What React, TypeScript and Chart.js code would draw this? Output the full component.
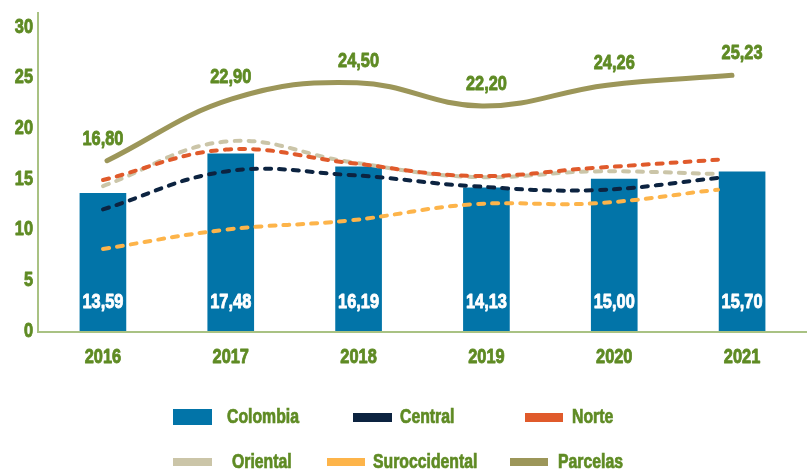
import React, { useEffect, useRef } from "react";
import { Chart, registerables } from "chart.js";

Chart.register(...registerables);

const YEARS = ["2016", "2017", "2018", "2019", "2020", "2021"];
const COLOMBIA = [13.59, 17.48, 16.19, 14.13, 15.0, 15.7];
const CENTRAL = [12.0, 15.75, 15.4, 14.3, 13.9, 15.1];
const NORTE = [14.9, 17.9, 16.6, 15.3, 16.1, 16.9];
const ORIENTAL = [14.3, 18.7, 16.7, 15.2, 15.75, 15.5];
const SUROCCIDENTAL = [8.1, 10.0, 10.9, 12.5, 12.6, 13.95];
const PARCELAS = [16.8, 22.9, 24.5, 22.2, 24.26, 25.23];

const FONT = "'Liberation Sans', Arial, sans-serif";
const TEXT_SCALE_X = 0.78;
const GREEN = "#5f8b24";
const AXIS = "#a9c283";

const COLORS = {
  Colombia: "#0274a8",
  Central: "#0c2340",
  Norte: "#e05a2b",
  Oriental: "#cbc5a8",
  Suroccidental: "#fdb44a",
  Parcelas: "#9c9659",
};

const fmt = (v: number) => v.toFixed(2).replace(".", ",");

const toXY = (arr: number[]) => arr.map((y, i) => ({ x: i, y }));

const decorPlugin = {
  id: "decor",
  beforeDatasetsDraw(chart: any) {
    const { ctx, chartArea, scales } = chart;
    const y0 = scales.y.getPixelForValue(0);
    ctx.save();
    ctx.strokeStyle = AXIS;
    ctx.lineWidth = 2;
    ctx.beginPath();
    ctx.moveTo(chartArea.left - 1, 12);
    ctx.lineTo(chartArea.left - 1, y0 + 1);
    ctx.lineTo(chart.width - 2, y0 + 1);
    ctx.stroke();
    ctx.restore();
  },
  afterDatasetsDraw(chart: any) {
    const { ctx, scales } = chart;
    const x = scales.x;
    const y = scales.y;
    ctx.save();
    ctx.font = `bold 21px ${FONT}`;
    ctx.textAlign = "center";
    ctx.textBaseline = "middle";
    ctx.fillStyle = "#ffffff";
    COLOMBIA.forEach((v, i) => {
      ctx.fillText(fmt(v), x.getPixelForValue(i), y.getPixelForValue(0) - 29);
    });
    ctx.fillStyle = GREEN;
    PARCELAS.forEach((v, i) => {
      ctx.fillText(fmt(v), x.getPixelForValue(i), y.getPixelForValue(v) - 22);
    });
    ctx.restore();
  },
};

const dashed = (label: keyof typeof COLORS, data: number[]) => ({
  type: "line" as const,
  label,
  data: toXY(data),
  xAxisID: "xd",
  borderColor: COLORS[label],
  backgroundColor: COLORS[label],
  borderWidth: 4,
  borderDash: [6, 8],
  borderCapStyle: "round" as const,
  pointRadius: 0,
  tension: 0.4,
  fill: false,
  order: 2,
});

const LEGEND = [
  { label: "Colombia", left: 173, top: 409, w: 39, h: 16, tx: 227, ty: 417 },
  { label: "Central", left: 353, top: 413, w: 39, h: 9, tx: 400, ty: 417 },
  { label: "Norte", left: 525, top: 413, w: 38, h: 9, tx: 572, ty: 417 },
  { label: "Oriental", left: 173, top: 458, w: 39, h: 8, tx: 232, ty: 462 },
  { label: "Suroccidental", left: 327, top: 458, w: 38, h: 8, tx: 373, ty: 462 },
  { label: "Parcelas", left: 510, top: 458, w: 38, h: 8, tx: 558, ty: 462 },
];

export default function App() {
  const ref = useRef<HTMLCanvasElement | null>(null);

  useEffect(() => {
    document.body.style.margin = "0";
    const canvas = ref.current;
    if (!canvas) return;
    const ctx2d = canvas.getContext("2d") as any;
    if (ctx2d && !ctx2d.__narrow) {
      const orig = ctx2d.fillText.bind(ctx2d);
      const origStroke = ctx2d.strokeText.bind(ctx2d);
      ctx2d.fillText = (t: string, x: number, y: number) => {
        ctx2d.save();
        ctx2d.translate(x, y);
        ctx2d.scale(TEXT_SCALE_X, 1);
        orig(t, 0, 0);
        ctx2d.strokeStyle = ctx2d.fillStyle;
        ctx2d.lineWidth = 0.9;
        ctx2d.lineJoin = "round";
        origStroke(t, 0, 0);
        ctx2d.restore();
      };
      ctx2d.__narrow = true;
    }
    const chart = new Chart(canvas, {
      data: {
        labels: YEARS,
        datasets: [
          {
            type: "bar",
            label: "Colombia",
            data: COLOMBIA,
            backgroundColor: COLORS.Colombia,
            barThickness: 46,
            grouped: false,
            order: 10,
          },
          dashed("Central", CENTRAL),
          dashed("Norte", NORTE),
          dashed("Oriental", ORIENTAL),
          dashed("Suroccidental", SUROCCIDENTAL),
          {
            type: "line",
            label: "Parcelas",
            data: toXY(PARCELAS),
            xAxisID: "xp",
            borderColor: COLORS.Parcelas,
            backgroundColor: COLORS.Parcelas,
            borderWidth: 5,
            borderCapStyle: "round",
            pointRadius: 0,
            tension: 0.4,
            fill: false,
            order: 1,
          },
        ] as any,
      },
      options: {
        responsive: false,
        animation: false,
        devicePixelRatio: 1,
        layout: { padding: { top: 27, right: 3, bottom: 99, left: 0 } },
        plugins: { legend: { display: false }, tooltip: { enabled: false } },
        scales: {
          x: {
            type: "category",
            offset: true,
            grid: { display: false, drawTicks: false },
            border: { display: false },
            ticks: {
              color: GREEN,
              font: { family: FONT, size: 21, weight: "bold" },
              padding: 14,
            },
            afterFit: (s: any) => {
              s.height = 40;
            },
          },
          xd: {
            type: "linear",
            display: false,
            min: -0.5203,
            max: 5.7157,
          },
          xp: {
            type: "linear",
            display: false,
            min: -0.544,
            max: 5.592,
          },
          y: {
            min: 0,
            max: 30,
            grid: { display: false, drawTicks: false },
            border: { display: false },
            ticks: {
              stepSize: 5,
              color: GREEN,
              font: { family: FONT, size: 21, weight: "bold" },
              padding: 6,
            },
            afterFit: (s: any) => {
              s.width = 39;
            },
          },
        },
      } as any,
      plugins: [decorPlugin],
    });
    return () => chart.destroy();
  }, []);

  return (
    <div style={{ position: "relative", width: 809, height: 470, overflow: "hidden", background: "#fff" }}>
      <canvas ref={ref} width={809} height={470} style={{ display: "block" }} />
      {LEGEND.map((l) => (
        <React.Fragment key={l.label}>
          <div
            style={{
              position: "absolute",
              left: l.left,
              top: l.top,
              width: l.w,
              height: l.h,
              background: COLORS[l.label as keyof typeof COLORS],
            }}
          />
          <span
            style={{
              position: "absolute",
              left: l.tx,
              top: l.ty,
              transform: "translateY(-50%) scaleX(0.81)",
              transformOrigin: "left center",
              lineHeight: 1,
              fontFamily: FONT,
              fontWeight: "bold",
              fontSize: 19.5,
              color: GREEN,
              WebkitTextStroke: "0.7px " + GREEN,
              whiteSpace: "nowrap",
            }}
          >
            {l.label}
          </span>
        </React.Fragment>
      ))}
    </div>
  );
}
